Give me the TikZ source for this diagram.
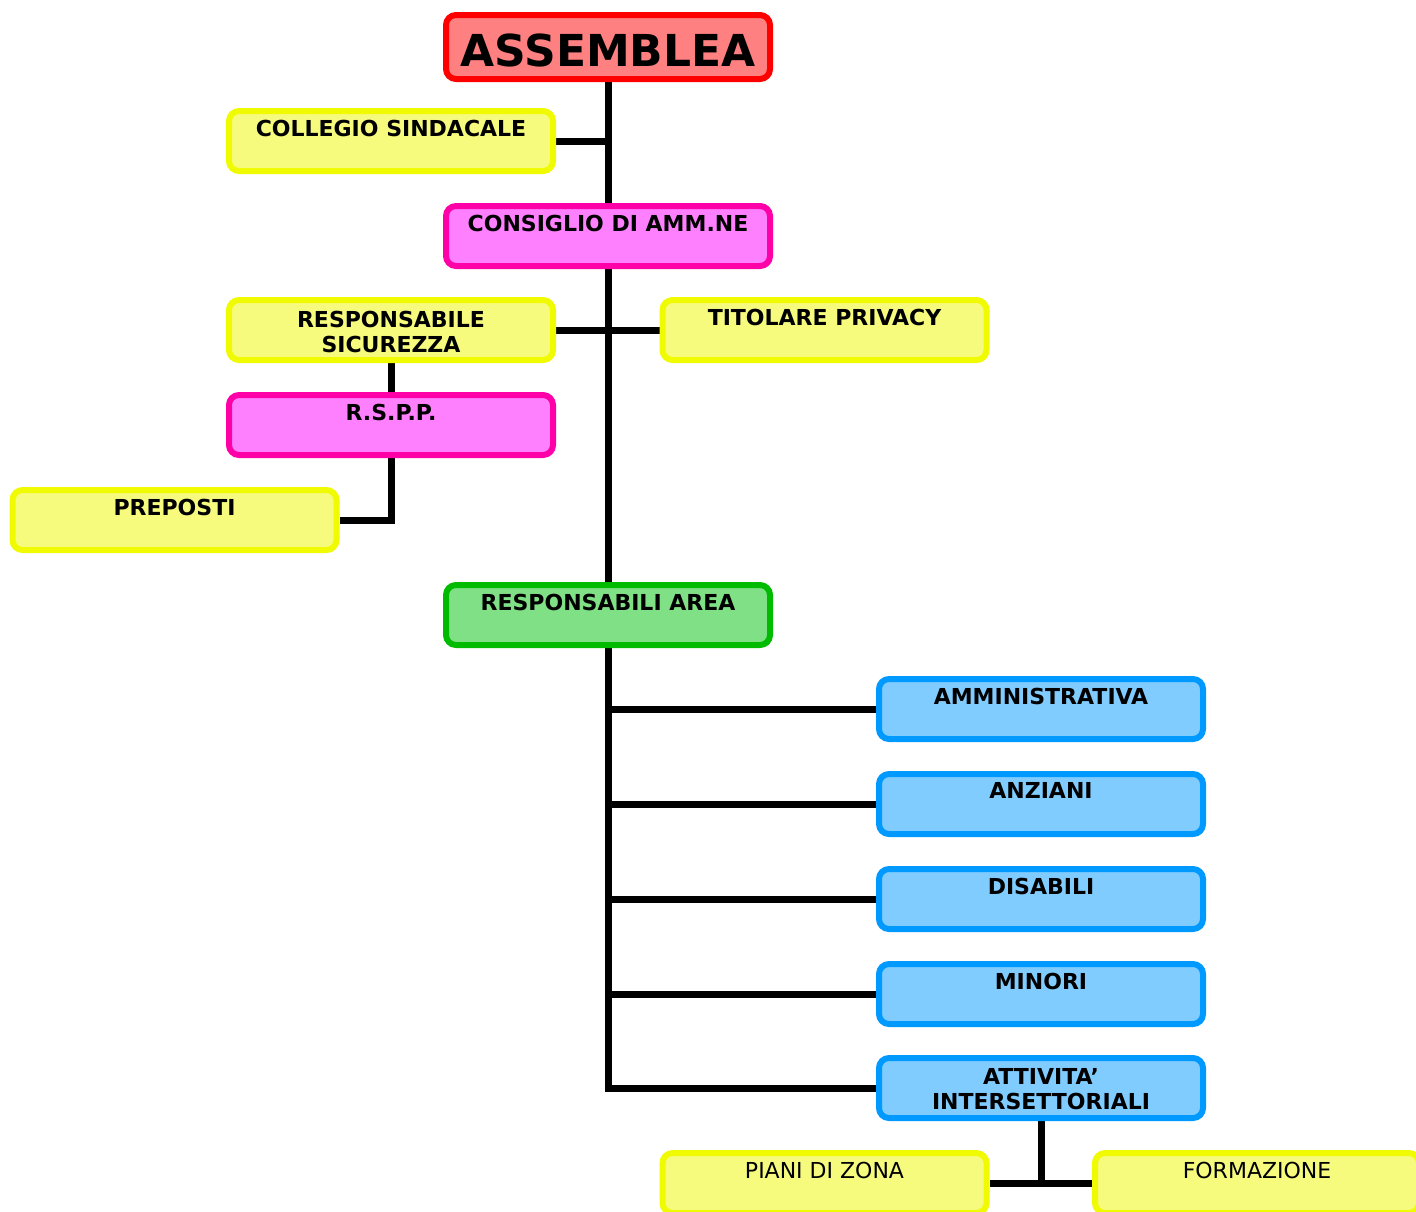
\documentclass[tikz,border=0pt]{standalone}
\usepackage{fontspec}
\setmainfont{DejaVu Sans}
\usetikzlibrary{backgrounds,calc}
\definecolor{redB}{HTML}{FF0000}
\definecolor{redF}{HTML}{FF8080}
\definecolor{yelB}{HTML}{F0FA00}
\definecolor{yelF}{HTML}{F6FB7E}
\definecolor{magB}{HTML}{FF00A8}
\definecolor{magF}{HTML}{FF80FF}
\definecolor{grnB}{HTML}{00BB00}
\definecolor{grnF}{HTML}{80E085}
\definecolor{bluB}{HTML}{0099FF}
\definecolor{bluF}{HTML}{80CCFF}
\tikzset{
  box/.style={draw, line width=3pt, rounded corners=5pt, minimum width=162pt,
    minimum height=30pt, inner sep=0pt},
  redbox/.style={box, draw=redB, fill=redF},
  yelbox/.style={box, draw=yelB, fill=yelF},
  magbox/.style={box, draw=magB, fill=magF},
  grnbox/.style={box, draw=grnB, fill=grnF},
  blubox/.style={box, draw=bluB, fill=bluF},
  lbl/.style={anchor=north, inner sep=0pt, align=center, font=\fontsize{11}{12.5}\selectfont\bfseries},
  lblreg/.style={anchor=north, inner sep=0pt, align=center, font=\fontsize{11}{12.5}\selectfont},
  wire/.style={line width=3.5pt, black},
}
\begin{document}
\begin{tikzpicture}[x=0.5pt, y=-0.5pt]
\useasboundingbox (0,0) rectangle (1416,1211);
% boxes
\node[redbox, minimum height=32pt] (ass) at (608,47) {};
\node[yelbox] (col) at (391,141) {};
\node[magbox] (cda) at (608,236) {};
\node[yelbox] (rsic) at (391,330) {};
\node[yelbox] (priv) at (824.5,330) {};
\node[magbox] (rspp) at (391,425) {};
\node[yelbox] (prep) at (174.5,520) {};
\node[grnbox] (area) at (608,615) {};
\node[blubox] (amm) at (1041,709) {};
\node[blubox] (anz) at (1041,804) {};
\node[blubox] (dis) at (1041,899) {};
\node[blubox] (min) at (1041,994) {};
\node[blubox] (att) at (1041,1088) {};
\node[yelbox] (pdz) at (824.5,1183) {};
\node[yelbox] (form) at (1257,1183) {};
% labels
\node[inner sep=0pt, font=\fontsize{22}{24}\selectfont\bfseries] (assT) at ($(ass)+(0,3)$) {ASSEMBLEA};
\node[lbl] (colT) at ($(col.north)+(0,11.5)$) {COLLEGIO SINDACALE};
\node[lbl] (cdaT) at ($(cda.north)+(0,11.5)$) {CONSIGLIO DI AMM.NE};
\node[lbl] (rsicT) at ($(rsic.north)+(0,13.5)$) {RESPONSABILE\\SICUREZZA};
\node[lbl] (privT) at ($(priv.north)+(0,11.5)$) {TITOLARE PRIVACY};
\node[lbl] (rsppT) at ($(rspp.north)+(0,11.5)$) {R.S.P.P.};
\node[lbl] (prepT) at ($(prep.north)+(0,11.5)$) {PREPOSTI};
\node[lbl] (areaT) at ($(area.north)+(0,11.5)$) {RESPONSABILI AREA};
\node[lbl] (ammT) at ($(amm.north)+(0,11.5)$) {AMMINISTRATIVA};
\node[lbl] (anzT) at ($(anz.north)+(0,11.5)$) {ANZIANI};
\node[lbl] (disT) at ($(dis.north)+(0,11.5)$) {DISABILI};
\node[lbl] (minT) at ($(min.north)+(0,11.5)$) {MINORI};
\node[lbl] (attT) at ($(att.north)+(0,13.5)$) {ATTIVITA’\\INTERSETTORIALI};
\node[lblreg] (pdzT) at ($(pdz.north)+(0,11.5)$) {PIANI DI ZONA};
\node[lblreg] (formT) at ($(form.north)+(0,11.5)$) {FORMAZIONE};
% connectors
\begin{scope}[on background layer]
\draw[wire] (ass.south) -- (area.north);
\draw[wire] (col.east) -- (col.east -| ass.south);
\draw[wire] (rsic.east) -- (priv.west);
\draw[wire] (rsic.south) -- (rspp.north);
\draw[wire] (rspp.south) |- (prep.east);
\draw[wire] (area.south) |- (att.west);
\draw[wire] (area.south |- amm.west) -- (amm.west);
\draw[wire] (area.south |- anz.west) -- (anz.west);
\draw[wire] (area.south |- dis.west) -- (dis.west);
\draw[wire] (area.south |- min.west) -- (min.west);
\draw[wire] (att.south) -- (att.south |- pdz.east);
\draw[wire] (pdz.east) -- (form.west);
\end{scope}
\end{tikzpicture}
\end{document}
